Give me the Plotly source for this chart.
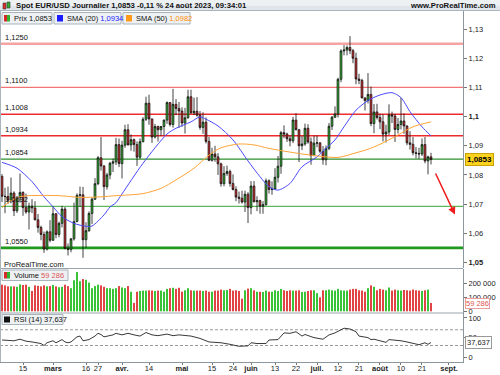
import numpy as np
import pandas as pd
import plotly.graph_objects as go

# ---------------- data ----------------
dates = pd.bdate_range("2023-02-06", "2023-08-24")
start_day = "2023-02-06"

opens = [1.0795,1.0727,1.0726,1.0713,1.0738,1.0677,1.0723,1.0740,1.0688,1.0673,
1.0693,1.0687,1.0646,1.0620,1.0596,1.0546,1.0605,1.0576,1.0667,1.0596,
1.0634,1.0683,1.0548,1.0545,1.0581,1.0640,1.0730,1.0732,1.0578,1.0609,
1.0668,1.0717,1.0770,1.0859,1.0831,1.0760,1.0800,1.0840,1.0845,1.0904,
1.0839,1.0902,1.0955,1.0903,1.0921,1.0904,1.0861,1.0914,1.0991,1.1046,
1.0992,1.0930,1.0966,1.0955,1.0966,1.0988,1.1048,1.0973,1.1042,1.1028,
1.1019,1.0978,1.0996,1.1068,1.1013,1.1018,1.1005,1.0963,1.0981,1.0915,
1.0850,1.0872,1.0862,1.0838,1.0770,1.0805,1.0812,1.0771,1.0750,1.0724,
1.0720,1.0707,1.0734,1.0688,1.0762,1.0708,1.0712,1.0693,1.0698,1.0780,
1.0750,1.0752,1.0792,1.0830,1.0945,1.0940,1.0924,1.0917,1.0988,1.0955,
1.0900,1.0906,1.0960,1.0913,1.0866,1.0909,1.0910,1.0881,1.0852,1.0891,
1.0967,1.0998,1.1009,1.1128,1.1225,1.1228,1.1237,1.1226,1.1200,1.1129,
1.1124,1.1064,1.1055,1.1076,1.0976,1.1016,1.0997,1.0982,1.0940,1.0947,
1.1006,1.1002,1.0956,1.0973,1.0985,1.0968,1.0910,1.0905,1.0876,1.0874,
1.0872,1.0904,1.0848,1.0862]

highs = [1.0803,1.0756,1.0760,1.0791,1.0744,1.0728,1.0805,1.0744,1.0736,1.0705,
1.0717,1.0710,1.0666,1.0626,1.0606,1.0610,1.0645,1.0692,1.0669,1.0640,
1.0694,1.0690,1.0565,1.0583,1.0705,1.0737,1.0760,1.0759,1.0638,1.0675,
1.0722,1.0789,1.0865,1.0930,1.0833,1.0807,1.0845,1.0856,1.0927,1.0925,
1.0917,1.0972,1.0974,1.0939,1.0925,1.0915,1.0925,1.0998,1.1068,1.1075,
1.0993,1.0975,1.0969,1.0968,1.0990,1.1052,1.1050,1.1095,1.1060,1.1050,
1.1032,1.1030,1.1092,1.1092,1.1065,1.1067,1.1019,1.1015,1.0997,1.0930,
1.0893,1.0900,1.0875,1.0842,1.0830,1.0832,1.0818,1.0802,1.0761,1.0743,
1.0746,1.0746,1.0741,1.0779,1.0779,1.0727,1.0715,1.0710,1.0788,1.0785,
1.0778,1.0823,1.0865,1.0951,1.0970,1.0945,1.0935,1.0999,1.1012,1.0958,
1.0933,1.0976,1.0974,1.0928,1.0935,1.0935,1.0912,1.0899,1.0901,1.0978,
1.1002,1.1035,1.1133,1.1231,1.1245,1.1244,1.1276,1.1232,1.1219,1.1147,
1.1130,1.1066,1.1149,1.1103,1.1043,1.1044,1.1010,1.1008,1.0972,1.1042,
1.1017,1.1009,1.0995,1.1065,1.1011,1.0970,1.0950,1.0930,1.0896,1.0893,
1.0925,1.0930,1.0866,1.0876]

lows = [1.0707,1.0669,1.0701,1.0703,1.0659,1.0670,1.0705,1.0660,1.0667,1.0613,
1.0669,1.0645,1.0602,1.0576,1.0533,1.0541,1.0569,1.0574,1.0583,1.0586,
1.0620,1.0545,1.0524,1.0535,1.0575,1.0639,1.0690,1.0516,1.0550,1.0605,
1.0632,1.0714,1.0765,1.0815,1.0714,1.0750,1.0785,1.0810,1.0834,1.0827,
1.0788,1.0893,1.0901,1.0883,1.0880,1.0831,1.0855,1.0912,1.0985,1.0972,
1.0910,1.0925,1.0915,1.0934,1.0936,1.0975,1.0966,1.0962,1.1005,1.0961,
1.0965,1.0942,1.0993,1.1010,1.1005,1.1000,1.0955,1.0941,1.0908,1.0847,
1.0846,1.0845,1.0800,1.0760,1.0761,1.0797,1.0760,1.0747,1.0710,1.0702,
1.0702,1.0673,1.0635,1.0665,1.0706,1.0676,1.0667,1.0667,1.0695,1.0736,
1.0732,1.0750,1.0774,1.0804,1.0926,1.0913,1.0898,1.0909,1.0953,1.0844,
1.0885,1.0900,1.0907,1.0835,1.0865,1.0895,1.0875,1.0835,1.0833,1.0885,
1.0954,1.0995,1.0997,1.1118,1.1210,1.1210,1.1214,1.1183,1.1111,1.1111,
1.1063,1.1021,1.1045,1.0967,1.0943,1.0990,1.0957,1.0915,1.0911,1.0937,
1.0978,1.0913,1.0942,1.0956,1.0941,1.0902,1.0887,1.0867,1.0857,1.0855,
1.0865,1.0840,1.0802,1.0836]

closes = [1.0727,1.0726,1.0713,1.0738,1.0677,1.0723,1.0740,1.0688,1.0673,1.0693,
1.0687,1.0646,1.0620,1.0596,1.0546,1.0605,1.0576,1.0667,1.0596,1.0634,
1.0683,1.0548,1.0545,1.0581,1.0640,1.0730,1.0732,1.0578,1.0609,1.0668,
1.0717,1.0770,1.0859,1.0831,1.0760,1.0800,1.0840,1.0845,1.0904,1.0839,
1.0902,1.0955,1.0903,1.0921,1.0904,1.0861,1.0914,1.0991,1.1046,1.0992,
1.0930,1.0966,1.0955,1.0966,1.0988,1.1048,1.0973,1.1042,1.1028,1.1019,
1.0978,1.0996,1.1068,1.1013,1.1018,1.1005,1.0963,1.0981,1.0915,1.0850,
1.0872,1.0862,1.0838,1.0770,1.0805,1.0812,1.0771,1.0750,1.0724,1.0720,
1.0707,1.0734,1.0688,1.0762,1.0708,1.0712,1.0693,1.0698,1.0780,1.0750,
1.0752,1.0792,1.0830,1.0945,1.0940,1.0924,1.0917,1.0988,1.0955,1.0900,
1.0906,1.0960,1.0913,1.0866,1.0909,1.0910,1.0881,1.0852,1.0891,1.0967,
1.0998,1.1009,1.1128,1.1225,1.1228,1.1237,1.1226,1.1200,1.1129,1.1124,
1.1064,1.1055,1.1076,1.0976,1.1016,1.0997,1.0982,1.0940,1.0947,1.1006,
1.1002,1.0956,1.0973,1.0985,1.0968,1.0910,1.0905,1.0876,1.0874,1.0872,
1.0904,1.0848,1.0862,1.0853]

volumes = [190000,185000,178000,178000,178000,175000,192000,188000,190000,175000,
145000,185000,182000,178000,185000,178000,180000,188000,178000,172000,
175000,190000,180000,165000,222000,280000,215000,230000,225000,205000,
165000,180000,190000,185000,175000,165000,165000,160000,165000,180000,
170000,165000,180000,140000,60000,140000,145000,148000,148000,150000,
148000,145000,148000,148000,140000,160000,165000,168000,160000,168000,
140000,150000,165000,150000,148000,148000,148000,145000,148000,140000,
140000,148000,148000,155000,150000,152000,160000,148000,150000,145000,
90000,150000,162000,165000,150000,140000,140000,138000,148000,140000,
140000,150000,145000,160000,150000,145000,150000,148000,148000,150000,
138000,140000,145000,150000,150000,130000,100000,150000,150000,155000,
150000,148000,160000,150000,148000,148000,155000,160000,160000,150000,
148000,140000,165000,185000,175000,150000,160000,155000,150000,170000,
148000,155000,150000,148000,152000,150000,148000,155000,150000,148000,
145000,150000,155000,59286]

# moving averages and RSI (trading-day number, value)
sma20_day = [0,5,10,14,17,20,24,28,30,34,36,38,40,47,55,58,63,66,68,72,77,82,86,89,92,96,100,105,108,111,114,118,122,126,130,133,136,140,143]
sma20 = [1.0843,1.0823,1.0777,1.0725,1.0691,1.0657,1.0634,1.0624,1.0625,1.0663,1.0690,1.0705,1.0735,1.0840,1.0940,1.0960,1.0982,1.0999,1.0991,1.0968,1.0920,1.0848,1.0794,1.0760,1.0748,1.0771,1.0828,1.0862,1.0891,1.0920,1.0965,1.1022,1.1055,1.1074,1.1082,1.1065,1.1017,1.0965,1.0934]
sma50_day = [0,3,6,9,19,26,33,38,47,53,58,64,69,73,79,84,89,95,100,106,112,118,122,126,132,137,143]
sma50 = [1.0688,1.0712,1.0725,1.0729,1.0729,1.0723,1.0725,1.0729,1.0736,1.0754,1.0783,1.0823,1.0868,1.0893,1.0906,1.0903,1.0891,1.0880,1.0872,1.0864,1.0860,1.0876,1.0888,1.0905,1.0937,1.0965,1.0982]
rsi_day = [0,4,6,8,10,13,14,15,17,18,20,21,22,23,25,26,27,29,31,32,33,34,37,38,40,42,44,46,48,50,52,55,57,59,63,66,69,73,76,79,82,83,85,88,89,92,94,96,98,100,101,103,104,107,109,111,113,114,116,118,119,122,123,124,126,128,129,131,133,135,138,139,141,142,143]
rsi = [44,42,46,41,39,35,30,37,42,37,45,39,37,39,52,54,42,45,54,61,58,52,57,61,57,61,57,54,63,57,55,59,55,57,54,48,39,37,33,28,29,37,35,35,44,45,62,61,65,54,58,52,50,46,57,62,71,74,72,65,54,50,45,46,42,38,45,44,42,39,33,32,37,33,37.637]

levels = [1.1250, 1.1100, 1.1008, 1.0934, 1.0854, 1.0692, 1.0550]
level_labels = ["1,1250", "1,1100", "1,1008", "1,0934", "1,0854", "1,0692", "1,0550"]
level_colors = ["#f6a3a3", "#f27474", "#ee2e2e", "#ee2a2a", "#2f8f2f", "#5cb85c", "#1f9a1f"]
level_widths = [2.5, 1.3, 1.5, 1.5, 1.3, 1.2, 2.6]

price_ticks = [1.05, 1.06, 1.07, 1.08, 1.09, 1.10, 1.11, 1.12, 1.13]
price_tick_text = ["<b>1,05</b>", "1,06", "1,07", "1,08", "1,09", "<b>1,1</b>", "1,11", "1,12", "1,13"]

date_ticks = ["2023-02-15", "2023-03-01", "2023-03-16", "2023-03-22", "2023-04-03", "2023-04-14",
              "2023-05-01", "2023-05-15", "2023-05-24", "2023-06-01", "2023-06-13", "2023-06-22",
              "2023-07-03", "2023-07-12", "2023-07-21", "2023-08-01", "2023-08-10", "2023-08-21", "2023-09-01"]
date_tick_text = ["15", "<b>mars</b>", "16", "27", "<b>avr.</b>", "14", "<b>mai</b>", "15", "24", "<b>juin</b>",
                  "13", "22", "<b>juil.</b>", "12", "21", "<b>août</b>", "10", "21", "<b>sept.</b>"]

arrow_from = (144.3, 1.0810)
arrow_to = (151.0, 1.0664)

# ---------------- figure ----------------
FONT = "Liberation Sans, Arial, sans-serif"
W, H = 500, 375
L, R, T, B = 0, 37, 11, 13
PW, PH = W - L - R, H - T - B

def px(x):
    return (x - L) / PW

def py(y):
    return (H - B - y) / PH

day = np.arange(len(dates))
tick_pos = [int(np.busday_count(start_day, d)) for d in date_ticks]

up_col, dn_col = "#2fbf2f", "#e42a2a"
vol_colors = ["#37c437" if c >= o else "#e04444" for o, c in zip(opens, closes)]

fig = go.Figure()
fig.add_trace(go.Candlestick(
    x=day, open=opens, high=highs, low=lows, close=closes,
    increasing=dict(line=dict(color="#111111", width=0.8), fillcolor=up_col),
    decreasing=dict(line=dict(color="#111111", width=0.8), fillcolor=dn_col),
    whiskerwidth=0, xaxis="x", yaxis="y", showlegend=False, hoverinfo="skip"))
fig.add_trace(go.Scatter(x=sma20_day, y=sma20, mode="lines", xaxis="x", yaxis="y",
    line=dict(color="#4a4aff", width=1, shape="spline", smoothing=0.8), showlegend=False, hoverinfo="skip"))
fig.add_trace(go.Scatter(x=sma50_day, y=sma50, mode="lines", xaxis="x", yaxis="y",
    line=dict(color="#ffa436", width=1, shape="spline", smoothing=0.8), showlegend=False, hoverinfo="skip"))
fig.add_trace(go.Bar(x=day, y=volumes, marker=dict(color=vol_colors, line=dict(width=0)),
    xaxis="x2", yaxis="y2", showlegend=False, hoverinfo="skip"))
fig.add_trace(go.Scatter(x=rsi_day, y=rsi, mode="lines", xaxis="x3", yaxis="y3",
    line=dict(color="#222222", width=0.9), showlegend=False, hoverinfo="skip"))

xr = [-0.67, 153.67]
axcol = "#8c969e"
tf = dict(family=FONT, size=7.5, color="#222")
common_y = dict(side="right", tickmode="array", tickfont=tf, ticks="outside", ticklen=3, tickcolor="#777",
                showgrid=False, zeroline=False, showline=True, linecolor=axcol, linewidth=1,
                automargin=False, fixedrange=True)
fig.update_layout(
    template="none",
    width=W, height=H, margin=dict(l=L, r=R, t=T, b=B, pad=0, autoexpand=False),
    paper_bgcolor="white", plot_bgcolor="white", showlegend=False,
    font=dict(family=FONT, size=7.5, color="#222"),
    bargap=0.33, boxgap=0.15,
    xaxis=dict(domain=[0, 1], anchor="y", range=xr, showticklabels=False, showgrid=False,
               zeroline=False, rangeslider=dict(visible=False), ticks="", automargin=False),
    xaxis2=dict(domain=[0, 1], anchor="y2", range=xr, matches="x", showticklabels=False,
                showgrid=False, zeroline=False, ticks="", automargin=False),
    xaxis3=dict(domain=[0, 1], anchor="y3", range=xr, matches="x", showgrid=False, zeroline=False,
                tickmode="array", tickvals=tick_pos, ticktext=date_tick_text, tickfont=tf,
                ticks="outside", ticklen=2, tickcolor="#777", showline=True, linecolor=axcol, linewidth=1,
                ticklabelstandoff=-3, automargin=False),
    yaxis=dict(domain=[py(268), 1], anchor="x", range=[1.0481, 1.1362],
               tickvals=price_ticks, ticktext=price_tick_text, **common_y),
    yaxis2=dict(domain=[py(313), py(269)], anchor="x2", range=[-12000, 302000],
                tickvals=[0, 100000, 200000], ticktext=["0", "100 000", "200 000"], **common_y),
    yaxis3=dict(domain=[0, py(313)], anchor="x3", range=[-12, 112.7],
                tickvals=[0, 50, 100], ticktext=["0", "50", "100"], **common_y),
)

shapes = []
for lv, col, wd in zip(levels, level_colors, level_widths):
    shapes.append(dict(type="line", xref="paper", yref="y", x0=0, x1=1, y0=lv, y1=lv,
                       line=dict(color=col, width=wd), layer="below"))
for lv in (30, 70):
    shapes.append(dict(type="line", xref="paper", yref="y3", x0=0, x1=1, y0=lv, y1=lv,
                       line=dict(color="#9a9a9a", width=1, dash="3px,2px"), layer="below"))
# title bar
shapes.append(dict(type="rect", xref="paper", yref="paper", x0=px(0), x1=px(500), y0=py(5.5), y1=py(0),
                   fillcolor="#eef1f4", line=dict(width=0), layer="above"))
shapes.append(dict(type="rect", xref="paper", yref="paper", x0=px(0), x1=px(500), y0=py(10.5), y1=py(5.5),
                   fillcolor="#dfe5ea", line=dict(width=0), layer="above"))
shapes.append(dict(type="line", xref="paper", yref="paper", x0=px(0), x1=px(500), y0=py(10.5), y1=py(10.5),
                   line=dict(color="#aab4bc", width=1)))
shapes.append(dict(type="rect", xref="paper", yref="paper", x0=px(3), x1=px(6), y0=py(9), y1=py(3),
                   fillcolor="#e03030", line=dict(color="#333", width=0.6)))
shapes.append(dict(type="rect", xref="paper", yref="paper", x0=px(7), x1=px(10), y0=py(8), y1=py(2),
                   fillcolor="#30b030", line=dict(color="#333", width=0.6)))
for yy in (268.5, 313):
    shapes.append(dict(type="line", xref="paper", yref="paper", x0=0, x1=1, y0=py(yy), y1=py(yy),
                       line=dict(color="#9aa4ac", width=1)))
shapes.append(dict(type="line", xref="paper", yref="paper", x0=px(0.5), x1=px(0.5), y0=py(362), y1=py(11),
                   line=dict(color="#aab4bc", width=1)))

def legend_box(x0, x1, y0, y1):
    return dict(type="rect", xref="paper", yref="paper", x0=px(x0), x1=px(x1), y0=py(y1), y1=py(y0),
                fillcolor="#eef1f3", line=dict(color="#a9b3bb", width=1), layer="above")
for b in [(2, 52, 12.5, 24), (54, 121, 12.5, 24), (123, 190, 12.5, 24), (2, 68, 270, 280.5), (2, 63, 314.5, 324.5)]:
    shapes.append(legend_box(*b))

def icon(x0, x1, y0, y1, col):
    return dict(type="rect", xref="paper", yref="paper", x0=px(x0), x1=px(x1), y0=py(y1), y1=py(y0),
                fillcolor=col, line=dict(width=0), layer="above")
shapes += [icon(4, 7, 15, 21.5, "#d42a2a"), icon(7, 10, 15, 21.5, "#2fb52f"),
           icon(57, 63, 15, 21.5, "#1a1aff"), icon(126, 132, 15, 21.5, "#ff9a1a"),
           icon(4, 7, 272, 278.5, "#d42a2a"), icon(7, 10, 272, 278.5, "#2fb52f"),
           icon(4, 10, 316.5, 322.5, "#111111")]
fig.update_layout(shapes=shapes)

ann = []
def text_px(x, y, text, size=7.5, color="#111", xanchor="left", bold=False):
    t = f"<b>{text}</b>" if bold else text
    return dict(xref="paper", yref="paper", x=px(x), y=py(y), text=t, showarrow=False,
                xanchor=xanchor, yanchor="middle", font=dict(family=FONT, size=size, color=color))

ann.append(text_px(14, 5.5, "Spot EUR/USD Journalier 1,0853 -0,11 % 24 août 2023, 09:34:01", size=7.7, bold=True))
ann.append(text_px(498, 5.5, "www.ProRealTime.com", size=7.7, xanchor="right", bold=True))
ann.append(text_px(12, 18.5, "Prix 1,0853"))
ann.append(text_px(65, 18.5, "SMA (20) <span style='color:#2222ff'>1,0934</span>"))
ann.append(text_px(134, 18.5, "SMA (50) <span style='color:#ff8c00'>1,0982</span>"))
ann.append(text_px(12, 275.5, "Volume <span style='color:#e05555'>59 286</span>"))
ann.append(text_px(12, 319.5, "RSI (14) 37,637"))
ann.append(text_px(2, 264, "ProRealTime.com"))

for lv, lab in zip(levels, level_labels):
    ann.append(dict(xref="paper", yref="y", x=px(3), y=lv, text=lab, showarrow=False,
                    xanchor="left", yanchor="bottom", font=dict(family=FONT, size=7.5, color="#111")))

ann.append(dict(xref="paper", yref="y", x=px(465), y=closes[-1], text="<b>1,0853</b>", showarrow=False,
                xanchor="left", yanchor="middle", bgcolor="#ffd21f", bordercolor="#c9a400", borderwidth=1,
                borderpad=1, font=dict(family=FONT, size=8, color="#000")))
ann.append(dict(xref="paper", yref="y2", x=px(465), y=volumes[-1], text="59 286", showarrow=False,
                xanchor="left", yanchor="middle", bgcolor="white", bordercolor="#ec9e9e", borderwidth=1,
                borderpad=0, font=dict(family=FONT, size=7.5, color="#e05555")))
ann.append(dict(xref="paper", yref="y3", x=px(465), y=rsi[-1], text="37,637", showarrow=False,
                xanchor="left", yanchor="middle", bgcolor="white", bordercolor="#999", borderwidth=1,
                borderpad=1, font=dict(family=FONT, size=7.5, color="#222")))

ann.append(dict(xref="x", yref="y", axref="x", ayref="y", x=arrow_to[0], y=arrow_to[1],
                ax=arrow_from[0], ay=arrow_from[1], text="", showarrow=True, arrowhead=2,
                arrowsize=1, arrowwidth=1.5, arrowcolor="#ee1c1c"))
fig.update_layout(annotations=ann)

fig.write_html("out.html", config={"staticPlot": True},
               post_script="document.body.style.margin='0';document.body.style.padding='0';")
